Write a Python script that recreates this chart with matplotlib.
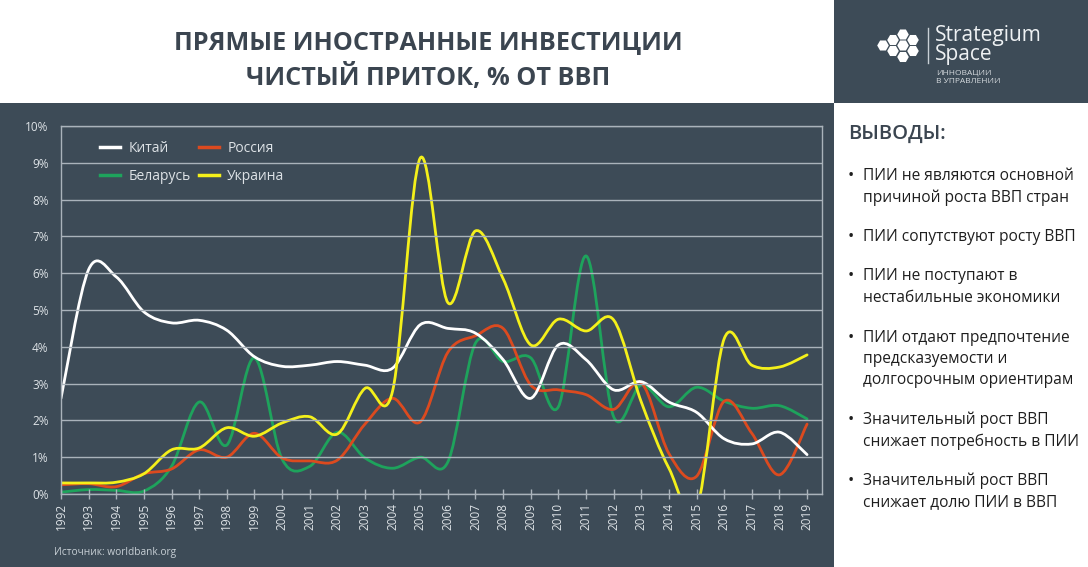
from matplotlib import pyplot as plt
from matplotlib import font_manager
from matplotlib.path import Path
from matplotlib.patches import PathPatch, Rectangle, RegularPolygon
from matplotlib.lines import Line2D
import numpy as np

# ---- data ----
years = [1992, 1993, 1994, 1995, 1996, 1997, 1998, 1999, 2000, 2001,
         2002, 2003, 2004, 2005, 2006, 2007, 2008, 2009, 2010, 2011,
         2012, 2013, 2014, 2015, 2016, 2017, 2018, 2019]

china = [2.6, 6.1, 5.9, 4.95, 4.65, 4.72, 4.45, 3.73, 3.47, 3.5,
         3.6, 3.5, 3.42, 4.6, 4.5, 4.37, 3.65, 2.6, 4.05, 3.65,
         2.83, 3.05, 2.5, 2.22, 1.5, 1.36, 1.68, 1.07]
russia = [0.25, 0.28, 0.2, 0.55, 0.68, 1.2, 1.0, 1.65, 0.98, 0.9,
          0.92, 1.9, 2.6, 1.96, 3.85, 4.3, 4.5, 2.96, 2.83, 2.7,
          2.3, 3.02, 1.1, 0.48, 2.52, 1.65, 0.52, 1.9]
belarus = [0.05, 0.12, 0.1, 0.08, 0.75, 2.5, 1.33, 3.7, 0.95, 0.75,
           1.68, 0.98, 0.7, 1.0, 0.87, 4.1, 3.6, 3.7, 2.37, 6.47,
           2.1, 2.96, 2.37, 2.9, 2.52, 2.33, 2.4, 2.04]
ukraine = [0.3, 0.3, 0.32, 0.55, 1.2, 1.25, 1.8, 1.57, 1.93, 2.1,
           1.63, 2.87, 2.8, 9.13, 5.2, 7.15, 5.85, 4.05, 4.75, 4.43,
           4.73, 2.5, 0.7, -0.4, 4.22, 3.5, 3.45, 3.78]

y_ticks = [0, 1, 2, 3, 4, 5, 6, 7, 8, 9, 10]
y_labels = ["0%", "1%", "2%", "3%", "4%", "5%", "6%", "7%", "8%", "9%", "10%"]

title_lines = ["ПРЯМЫЕ ИНОСТРАННЫЕ ИНВЕСТИЦИИ", "ЧИСТЫЙ ПРИТОК, % ОТ ВВП"]
conclusions = [
    ["ПИИ не являются основной", "причиной роста ВВП стран"],
    ["ПИИ сопутствуют росту ВВП"],
    ["ПИИ не поступают в", "нестабильные экономики"],
    ["ПИИ отдают предпочтение", "предсказуемости и", "долгосрочным ориентирам"],
    ["Значительный рост ВВП", "снижает потребность в ПИИ"],
    ["Значительный рост ВВП", "снижает долю ПИИ в ВВП"],
]

DARK = "#3d4b57"
GRID = "#aab3bb"
LIGHT_TXT = "#dde2e6"
TITLE_C = "#3b4550"

plt.rcParams['font.family'] = ['Open Sans', 'DejaVu Sans']
names = {f.name for f in font_manager.fontManager.ttflist}
title_font = "Liberation Sans Narrow" if "Liberation Sans Narrow" in names else "Open Sans"


def smooth_path(xs, ys):
    # cubic bezier through every point, like a "smoothed line" in a spreadsheet
    pts = np.column_stack([xs, ys]).astype(float)
    n = len(pts)
    verts = [pts[0]]
    codes = [Path.MOVETO]
    for i in range(n - 1):
        p0 = pts[i - 1] if i > 0 else pts[i]
        p1, p2 = pts[i], pts[i + 1]
        p3 = pts[i + 2] if i + 2 < n else pts[i + 1]
        verts += [p1 + (p2 - p0) / 6, p2 - (p3 - p1) / 6, p2]
        codes += [Path.CURVE4] * 3
    return Path(verts, codes)


fig = plt.figure(figsize=(10.88, 5.67), dpi=100)
fig.patch.set_facecolor("white")

# background / decoration layer in pixel coordinates
deco = fig.add_axes([0, 0, 1, 1], zorder=0)
deco.set_xlim(0, 1088)
deco.set_ylim(567, 0)
deco.axis("off")
deco.add_patch(Rectangle((0, 103), 834, 464, color=DARK, lw=0))
deco.add_patch(Rectangle((834, 0), 254, 103, color=DARK, lw=0))

for i, line in enumerate(title_lines):
    deco.text(428, 43 + i * 34, line, ha="center", va="center", fontsize=18.2,
              fontweight="bold", color=TITLE_C, family=[title_font, 'DejaVu Sans'])

# logo
hex_centers = [(883, 45.5), (893, 40), (893, 51), (903, 34.5), (903, 45.5),
               (903, 57), (913, 40), (913, 51)]
for cx, cy in hex_centers:
    deco.add_patch(RegularPolygon((cx, cy), 6, radius=5.8, orientation=np.pi / 6,
                                  color="white", lw=0))
deco.plot([928, 928], [28, 63], color="#c9d0d6", lw=1)
deco.text(935, 45, "Strategium\nSpace", fontsize=15, color="#eef1f3", va="center",
          ha="left", linespacing=0.9)
deco.text(936, 77.5, "ИННОВАЦИИ\nВ УПРАВЛЕНИИ", fontsize=6, color="#d5dade",
          va="center", ha="left", linespacing=1.25)

# conclusions panel
deco.text(848, 134, "ВЫВОДЫ:", fontsize=14.5, fontweight="semibold", color=TITLE_C,
          va="center", ha="left")
y = 176
for block in conclusions:
    deco.text(848, y, "•", fontsize=12, color="#1e1e1e", va="center", ha="left")
    for line in block:
        deco.text(863, y, line, fontsize=11.2, color="#1e1e1e", va="center", ha="left")
        y += 21.5
    y += 18

deco.text(54, 552, "Источник: worldbank.org", fontsize=7.3, color="#c8d0d6",
          va="center", ha="left")

# main chart
ax = fig.add_axes([61 / 1088, 73 / 567, 761 / 1088, 368 / 567], zorder=1)
ax.set_facecolor("none")

series = [("Беларусь", belarus, "#1ea35c"),
          ("Россия", russia, "#dc4a1f"),
          ("Китай", china, "#ffffff"),
          ("Украина", ukraine, "#f4f01a")]
for name, vals, col in series:
    ax.add_patch(PathPatch(smooth_path(years, vals), fill=False, edgecolor=col,
                           lw=2.0, capstyle="round", joinstyle="round"))

ax.set_xlim(1992, 2019.54)
ax.set_ylim(0, 10)
ax.set_xticks(years)
ax.set_xticklabels([str(y) for y in years], rotation=90, fontsize=8.5, color=LIGHT_TXT)
ax.set_yticks(y_ticks)
ax.set_yticklabels(y_labels, fontsize=8.5, color=LIGHT_TXT)
ax.tick_params(axis="y", length=0, pad=9)
ax.tick_params(axis="x", length=7, direction="inout", color=GRID, width=1, pad=3)
ax.grid(axis="y", color=GRID, lw=1)
for s in ax.spines.values():
    s.set_color(GRID)
    s.set_linewidth(1)

handles = [Line2D([], [], color=c, lw=2.5) for _, _, c in
           [series[2], series[0], series[1], series[3]]]
labels = ["Китай", "Беларусь", "Россия", "Украина"]
leg = ax.legend(handles, labels, ncol=2, loc="upper left", bbox_to_anchor=(0.051, 0.96),
                frameon=False, fontsize=10, handlelength=1.45, handletextpad=0.6,
                columnspacing=0.6, labelspacing=0.95, borderpad=0, borderaxespad=0)
for t in leg.get_texts():
    t.set_color(LIGHT_TXT)

fig.savefig("out.png", dpi=100, facecolor=fig.get_facecolor())
